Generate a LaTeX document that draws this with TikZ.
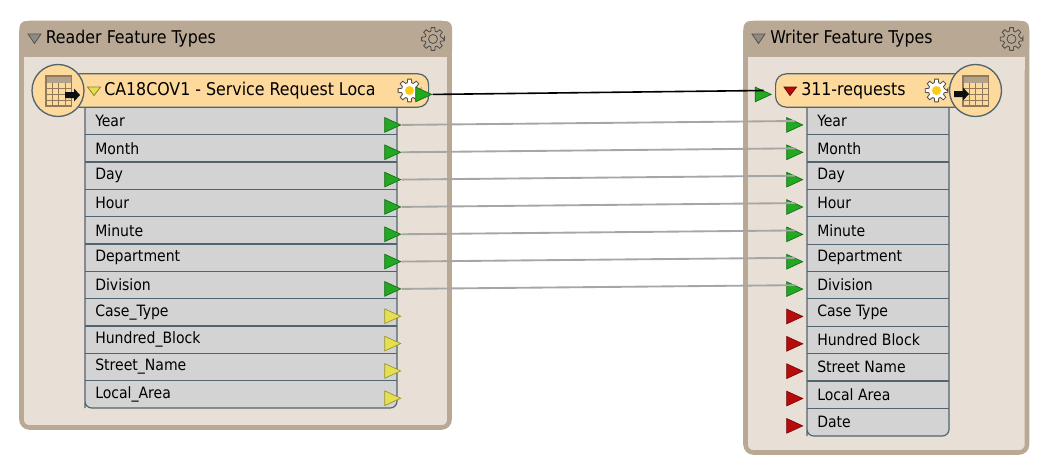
\documentclass[tikz,border=0pt]{standalone}
\usepackage{fontspec}
\setmainfont{DejaVu Sans Condensed}
\usetikzlibrary{shapes.geometric,calc}
\definecolor{headbrown}{HTML}{B9A994}
\definecolor{panelbody}{HTML}{E8E0D6}
\definecolor{barorange}{HTML}{FDD99B}
\definecolor{attrgray}{HTML}{D3D3D3}
\definecolor{edgeslate}{HTML}{50656F}
\definecolor{portgreen}{HTML}{22A822}
\definecolor{portyellow}{HTML}{E6E04F}
\definecolor{portred}{HTML}{B80C0C}
\definecolor{gridbrown}{HTML}{8F7A5C}
\definecolor{collapsegray}{HTML}{8E8A84}
\definecolor{gearyellow}{HTML}{FFC814}
\newcommand{\gearicon}[3]{%
    \draw[#3] ($(#1,#2)+(0:10.5)$)
        \foreach \a in {0,45,...,315}{
            -- ($(#1,#2)+(\a-9:11.5)$) -- ($(#1,#2)+(\a+9:11.5)$)
            -- ($(#1,#2)+(\a+16:8)$) -- ($(#1,#2)+(\a+29:8)$)
        } -- cycle;
}
\newcommand{\tableicon}[2]{%
    \fill[gridbrown!70] (#1,#2) rectangle (#1+25.5,#2+7);
    \draw[gridbrown,line width=0.9pt] (#1,#2) rectangle (#1+25.5,#2+30);
    \foreach \g in {1,2,3}{
        \draw[gridbrown,line width=0.75pt] (#1,#2+7+5.75*\g) -- (#1+25.5,#2+7+5.75*\g);
        \draw[gridbrown,line width=0.75pt] (#1+6.4*\g,#2+7) -- (#1+6.4*\g,#2+30);
    }
}
\tikzset{
    panelstyle/.style={draw=headbrown, fill=panelbody, line width=3.4pt, rounded corners=6pt},
    headstyle/.style={fill=headbrown, rounded corners=5pt},
    barstyle/.style={draw=edgeslate, fill=barorange, line width=0.9pt, rounded corners=8pt},
    attrstyle/.style={draw=edgeslate, fill=attrgray, line width=0.9pt},
    circlestyle/.style={circle, draw=edgeslate, fill=barorange, line width=1pt, inner sep=0pt, minimum size=39pt},
    titlestyle/.style={anchor=west, inner sep=0pt, font=\fontsize{13.2pt}{15pt}\selectfont, text=black},
    barlabel/.style={anchor=west, inner sep=0pt, font=\fontsize{13.2pt}{15pt}\selectfont, text=black},
    attrlabel/.style={anchor=west, inner sep=0pt, font=\fontsize{11.7pt}{14pt}\selectfont, text=black},
    portstyle/.style={isosceles triangle, isosceles triangle stretches, shape border rotate=0,
        inner sep=0pt, minimum width=11pt, minimum height=12pt, line width=0.5pt, draw=#1!65!black, fill=#1},
    linkstyle/.style={draw=black!35, line width=1.4pt},
    collapsestyle/.style={draw=#1!60!black, fill=#1, line width=0.6pt},
    gearstyle/.style={draw=black!70, fill=#1, line width=0.6pt},
}
\begin{document}
\begin{tikzpicture}[x=0.75pt,y=-0.75pt]
    \useasboundingbox (0,0) rectangle (1042,471);
    % Panels
    \draw[panelstyle] (21.5,23) rectangle (449.5,427.5);
    \draw[panelstyle] (745.5,23) rectangle (1027,452.5);
    \fill[headstyle] (19.5,21) -- (452,21) -- (452,57) -- (19.5,57) -- cycle;
    \fill[headstyle] (743.5,21) -- (1029,21) -- (1029,57) -- (743.5,57) -- cycle;
    \fill[panelbody] (24,57) rectangle (447,70);
    \fill[panelbody] (748,57) rectangle (1025,70);
    \node[titlestyle] (readertitle) at (45.5,39) {Reader Feature Types};
    \node[titlestyle] (writertitle) at (770,39) {Writer Feature Types};
    \draw[collapsestyle=collapsegray] (28,34) -- (41,34) -- (34.5,43.5) -- cycle;
    \draw[collapsestyle=collapsegray] (752,34) -- (765,34) -- (758.5,43.5) -- cycle;
    \gearicon{433}{39}{gearstyle=headbrown}
    \draw[black!70,line width=0.6pt] (433,39) circle (4.5);
    \gearicon{1011.5}{39}{gearstyle=headbrown}
    \draw[black!70,line width=0.6pt] (1011.5,39) circle (4.5);

    % Attribute bodies
    \draw[attrstyle] (85,105) -- (85,408) [rounded corners=5pt] -- (85,408) -- (397,408) [sharp corners] -- (397,105);
    \draw[attrstyle] (807,105) -- (807,436) [rounded corners=5pt] -- (807,436) -- (949,436) [sharp corners] -- (949,105);

    % Reader rows
    \foreach \t/\c [count=\i] in {Year/portgreen, Month/portgreen, Day/portgreen, Hour/portgreen,
            Minute/portgreen, Department/portgreen, Division/portgreen, Case\_Type/portyellow,
            Hundred\_Block/portyellow, Street\_Name/portyellow, Local\_Area/portyellow}{
        \pgfmathsetmacro{\yy}{121+27.33*(\i-1)}
        \node[attrlabel] (rlabel\i) at (95,\yy) {\t};
        \node[portstyle=\c, anchor=left side] (rport\i) at (393,\yy) {};
        \ifnum\i<11
            \draw[edgeslate,line width=0.9pt] (85,\yy+13.7) -- (397,\yy+13.7);
        \fi
    }
    % Writer rows
    \foreach \t/\c [count=\i] in {Year/portgreen, Month/portgreen, Day/portgreen, Hour/portgreen,
            Minute/portgreen, Department/portgreen, Division/portgreen, Case Type/portred,
            Hundred Block/portred, Street Name/portred, Local Area/portred, Date/portred}{
        \pgfmathsetmacro{\yy}{121+27.36*(\i-1)}
        \node[attrlabel] (wlabel\i) at (817,\yy) {\t};
        \node[portstyle=\c, anchor=left side] (wport\i) at (795,\yy) {};
        \ifnum\i<12
            \draw[edgeslate,line width=0.9pt] (807,\yy+13.7) -- (949,\yy+13.7);
        \fi
    }
    % Connections between attributes
    \foreach \i in {1,...,7}{
        \draw[linkstyle] (rport\i.apex) -- (wport\i.left side);
    }

    % Feature type bars
    \node[barstyle, minimum width=270pt, minimum height=25pt, inner sep=0pt, anchor=west] (readerbar) at (68,90.5) {};
    \node[barstyle, minimum width=142pt, minimum height=25pt, inner sep=0pt, anchor=west] (writerbar) at (775,90.5) {};
    \node[barlabel] (readername) at (104,90.5) {CA18COV1 - Service Request Loca};
    \node[barlabel] (writername) at (801,90.5) {311-requests};
    \draw[collapsestyle=portyellow] (87.5,87) -- (100.5,87) -- (94,95.5) -- cycle;
    \draw[collapsestyle=portred] (784,87) -- (796.5,87) -- (790,95.5) -- cycle;
    \gearicon{409.5}{90.5}{gearstyle=white}
    \fill[gearyellow] (409.5,90.5) circle (4.5);
    \gearicon{936.5}{90.5}{gearstyle=white}
    \fill[gearyellow] (936.5,90.5) circle (4.5);
    \node[portstyle=portgreen, anchor=left side] (readerport) at (424,90.5) {};
    \node[portstyle=portgreen, anchor=left side] (writerport) at (763.5,90.5) {};
    \draw[black,line width=1.2pt] (readerport.apex) -- (writerport.left side);

    % Round icons
    \node[circlestyle] (readericon) at (58,90.5) {};
    \node[circlestyle] (writericon) at (975.5,90.5) {};
    \tableicon{46}{76}
    \tableicon{963}{76}
    \fill[black!85!edgeslate] (65,92) -- (74,92) -- (74,88.5) -- (80,95) -- (74,101.5) -- (74,98) -- (65,98) -- cycle;
    \fill[black!85!edgeslate] (954,91) -- (963,91) -- (963,87.5) -- (969,94) -- (963,100.5) -- (963,97) -- (954,97) -- cycle;
\end{tikzpicture}
\end{document}
